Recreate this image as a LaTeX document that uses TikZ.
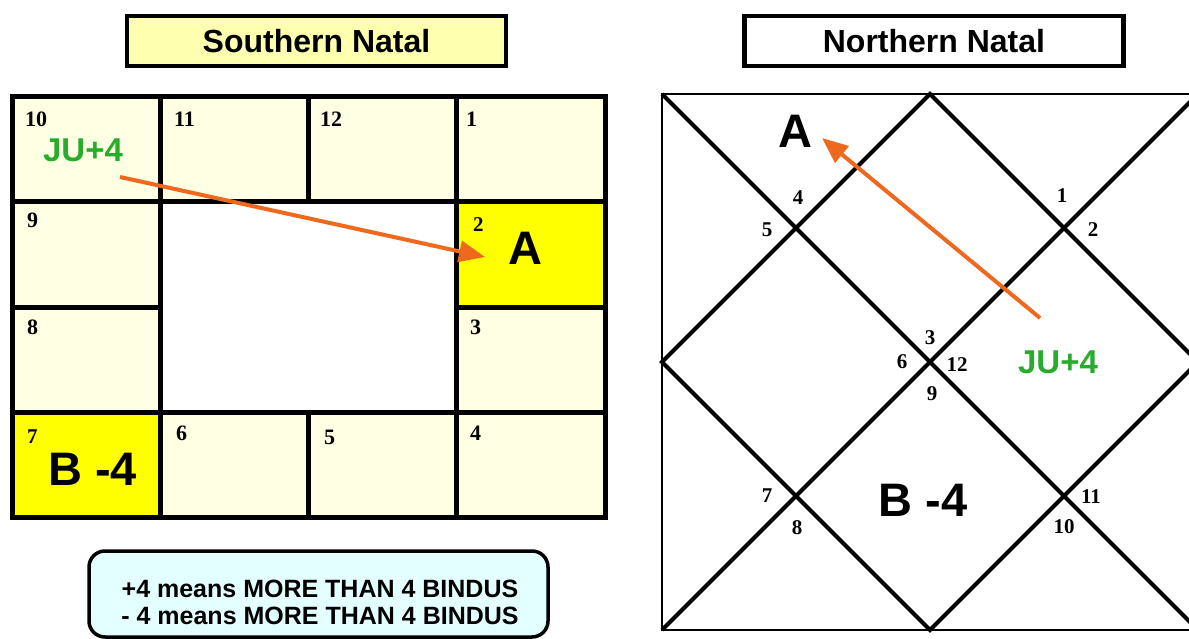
\documentclass[tikz,border=0pt]{standalone}
\usepackage{fontspec}
\setmainfont{Liberation Serif}
\newfontfamily\arialfont{Liberation Sans}
\usepackage{tikz}
\usetikzlibrary{arrows.meta,positioning}
\usepackage{xcolor}
\definecolor{cream}{RGB}{255,255,228}
\definecolor{pastel}{RGB}{255,255,176}
\definecolor{lemon}{RGB}{255,255,0}
\definecolor{icecyan}{RGB}{228,255,255}
\definecolor{jugreen}{RGB}{40,172,44}
\definecolor{rust}{RGB}{238,104,30}

\begin{document}
\begin{tikzpicture}[x=1pt, y=-1pt,
  titlebox/.style={draw=black, line width=4.5pt, minimum width=379pt, minimum height=50pt, inner sep=0pt, font=\arialfont\bfseries\fontsize{32}{34}\selectfont},
  housenum/.style={inner sep=0pt, font=\bfseries\fontsize{22}{22}\selectfont},
  smallnum/.style={inner sep=0pt, font=\bfseries\fontsize{21}{21}\selectfont},
  planet/.style={inner sep=0pt, font=\arialfont\bfseries\fontsize{47}{47}\selectfont},
  bindu/.style={inner sep=0pt, text=jugreen, font=\arialfont\bfseries\fontsize{33}{33}\selectfont},
  aspect/.style={draw=rust, line width=4pt, -{Triangle[length=26pt,width=21pt]}}]
  \useasboundingbox (0,0) rectangle (1189,639);
  \clip (0,0) rectangle (1189,639);

  % titles
  \node[titlebox, fill=pastel] (south) at (316.5,41) {Southern Natal};
  \node[titlebox, fill=white] (north) at (934,41) {Northern Natal};

  % southern chart
  \fill[cream] (12,97) rectangle (605,517);
  \fill[white] (160.25,202) rectangle (456.75,412);
  \fill[lemon] (456.75,202) rectangle (605,307);
  \fill[lemon] (12,412) rectangle (160.25,517);
  \draw[line width=5pt] (12,97) rectangle (605,517);
  \draw[line width=5pt] (12,202) -- (605,202) (12,412) -- (605,412)
    (12,307) -- (160.25,307) (456.75,307) -- (605,307)
    (160.25,97) -- (160.25,517) (456.75,97) -- (456.75,517)
    (308.5,97) -- (308.5,202) (308.5,412) -- (308.5,517);

  \node[housenum, anchor=base west] (s10) at (25,127) {10};
  \node[housenum, anchor=base west] (s11) at (174,127) {11};
  \node[housenum, anchor=base west] (s12) at (320,127) {12};
  \node[housenum, anchor=base west] (s1) at (466,127) {1};
  \node[housenum, anchor=base west] (s9) at (27,228) {9};
  \node[smallnum, anchor=base west] (s2) at (473,232) {2};
  \node[housenum, anchor=base west] (s8) at (27,334) {8};
  \node[housenum, anchor=base west] (s3) at (470,334) {3};
  \node[smallnum, anchor=base west] (s7) at (27,443) {7};
  \node[housenum, anchor=base west] (s6) at (176,440) {6};
  \node[housenum, anchor=base west] (s5) at (324,444) {5};
  \node[housenum, anchor=base west] (s4) at (470,440) {4};

  \node[bindu] (jus) at (83,150) {JU+4};
  \node[planet] (as) at (525,248) {A};
  \node[planet] (bs) at (92.5,469.5) {B -4};
  \coordinate (jus-tail) at (120,177);
  \coordinate (as-tip) at (485,257);
  \draw[aspect] (jus-tail) -- (as-tip);

  % legend
  \draw[line width=3.5pt, fill=icecyan, rounded corners=16pt] (89,551) rectangle (548,637);
  \node[inner sep=0pt, align=center, font=\arialfont\bfseries\fontsize{25}{27}\selectfont] (legend) at (320,602.5)
    {+4 means MORE THAN 4 BINDUS\\- 4 means MORE THAN 4 BINDUS};

  % northern chart
  \coordinate (tl) at (662,94);
  \coordinate (tr) at (1198,94);
  \coordinate (bl) at (662,630);
  \coordinate (br) at (1198,630);
  \coordinate (top) at (930,94);
  \coordinate (rgt) at (1198,362);
  \coordinate (bot) at (930,630);
  \coordinate (lft) at (662,362);
  \draw[line width=2.2pt] (tl) rectangle (br);
  \draw[line width=4pt] (tl) -- (br) (bl) -- (tr);
  \draw[line width=4pt] (top) -- (rgt) -- (bot) -- (lft) -- cycle;

  \node[smallnum] (n4) at (798,198) {4};
  \node[smallnum] (n5) at (767,230) {5};
  \node[smallnum] (n1) at (1062,196) {1};
  \node[smallnum] (n2) at (1093,230) {2};
  \node[smallnum] (n3) at (930,338) {3};
  \node[smallnum] (n6) at (902,362) {6};
  \node[smallnum] (n12) at (957,365) {12};
  \node[smallnum] (n9) at (932,394) {9};
  \node[smallnum] (n7) at (767,496) {7};
  \node[smallnum] (n8) at (797,528) {8};
  \node[smallnum] (n11) at (1091,497) {11};
  \node[smallnum] (n10) at (1064,527) {10};

  \node[planet] (an) at (795,131) {A};
  \node[planet] (bn) at (923,500) {B -4};
  \node[bindu] (jun) at (1058,362) {JU+4};
  \coordinate (jun-tail) at (1040,318);
  \coordinate (an-tip) at (822,138);
  \draw[aspect] (jun-tail) -- (an-tip);
\end{tikzpicture}
\end{document}
